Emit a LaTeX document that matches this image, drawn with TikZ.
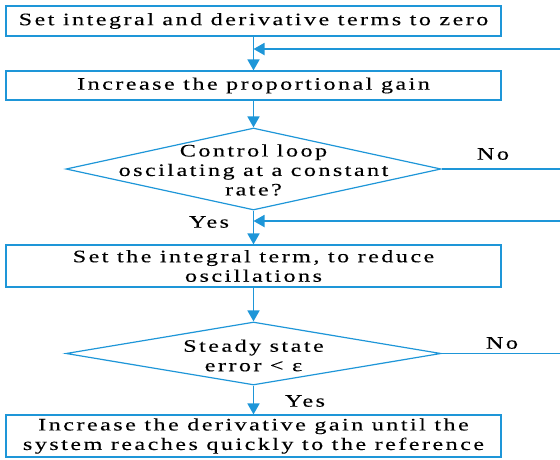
\documentclass[tikz,border=0pt]{standalone}
\usepackage{fontspec}
\setmainfont{Liberation Serif}[FakeStretch=1.38,LetterSpace=14,FakeBold=0.2]
\usetikzlibrary{shapes.geometric,arrows.meta}
\definecolor{fc}{RGB}{30,150,216}
\begin{document}
\begin{tikzpicture}[x=1pt,y=-1pt,
  every node/.style={font=\fontsize{17.5}{19.5}\selectfont, inner sep=0pt},
  procbox/.style={draw=fc, line width=1.2pt, minimum width=495pt, align=center},
  decbox/.style={draw=fc, line width=1.2pt, shape=diamond, minimum width=375pt},
  flow/.style={draw=fc, line width=1.8pt, -{Triangle[width=12pt,length=11pt]}},
  thin/.style={draw=fc, line width=1.2pt},
  lbl/.style={font=\fontsize{17.5}{19.5}\selectfont}]
\useasboundingbox (0,0) rectangle (560,459);
\node[procbox, minimum height=30pt] (b1) at (253.5,21) {Set integral and derivative terms to zero};
\node[procbox, minimum height=29pt] (b2) at (253.5,85.5) {Increase the proportional gain};
\node[decbox, minimum height=82pt] (d1) at (253.5,169) {};
\node[align=center] (t1) at (253.5,170) {Control loop\\oscilating at a constant\\rate?};
\node[procbox, minimum height=42pt] (b3) at (253.5,266) {Set the integral term, to reduce\\oscillations};
\node[decbox, minimum height=63pt] (d2) at (253.5,353.5) {};
\node[align=center] (t2) at (253.5,355.5) {Steady state\\error \textless{} ε};
\node[procbox, minimum height=42pt] (b4) at (253.5,436) {Increase the derivative gain until the\\system reaches quickly to the reference};
\coordinate (r1) at (560,49);
\coordinate (r2) at (560,169);
\coordinate (r3) at (560,221);
\coordinate (r4) at (560,353.5);
\draw[flow] (b1) -- (b2);
\draw[flow] (b2) -- (d1);
\draw[flow] (d1) -- (b3);
\draw[flow] (b3) -- (d2);
\draw[flow] (d2) -- (b4);
\draw[flow] (r1) -- (r1 -| b1.south);
\draw[flow] (r3) -- (r3 -| b1.south);
\draw[thin] (d1.east) -- (r2);
\draw[thin] (d2.east) -- (r4);
\node[lbl] (n1) at (493,154) {No};
\node[lbl] (n2) at (502,343) {No};
\node[lbl] (y1) at (209,222) {Yes};
\node[lbl] (y2) at (305,401) {Yes};
\end{tikzpicture}
\end{document}
